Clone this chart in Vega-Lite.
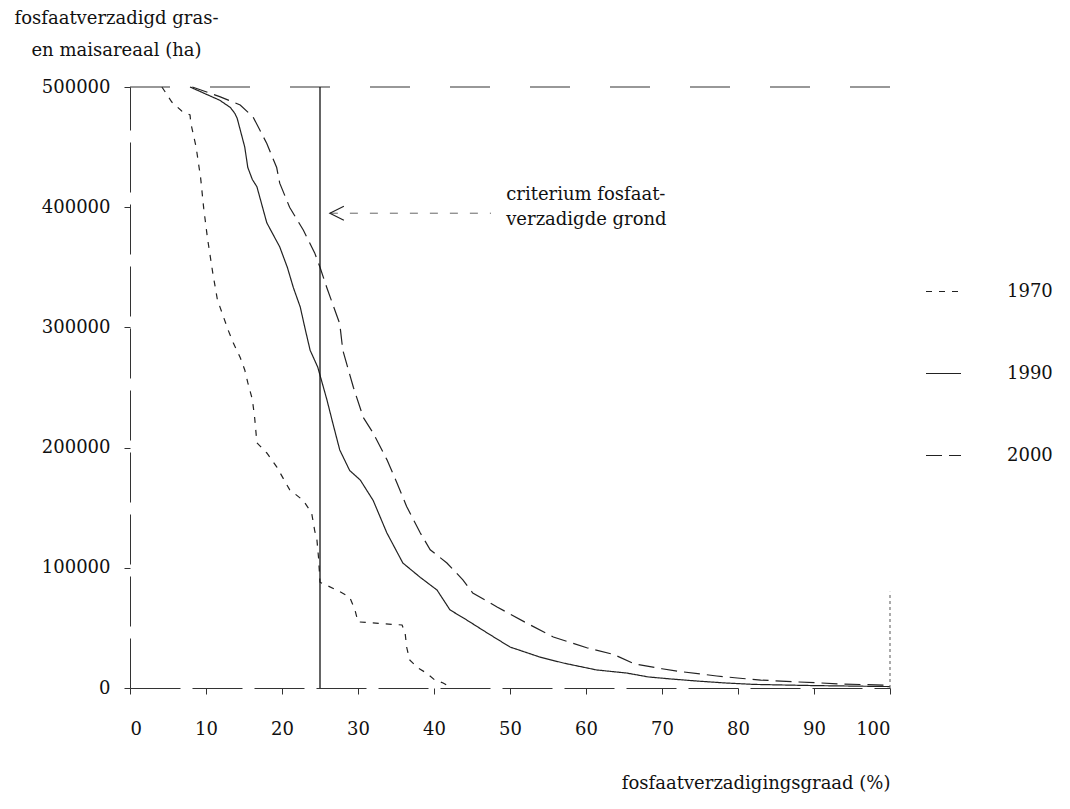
{
  "$schema": "https://vega.github.io/schema/vega-lite/v6.json",
  "width": 760,
  "height": 601,
  "autosize": {"type": "none"},
  "padding": {"left": 130, "top": 87, "right": 180, "bottom": 121},
  "background": "white",
  "config": {
    "font": "DejaVu Serif",
    "view": {"stroke": null},
    "axis": {"labelFont": "DejaVu Serif", "titleFont": "DejaVu Serif", "labelColor": "#111", "titleColor": "#111", "grid": false, "domainColor": "#333", "tickColor": "#333", "domainDash": [50, 12], "tickSize": 6, "titleFontWeight": "normal", "labelFontSize": 18, "titleFontSize": 18}
  },
  "datasets": {
    "curves": [
      {"jaar": "1970", "p": 4.2, "ha": 500000},
      {"jaar": "1970", "p": 5.5, "ha": 487500},
      {"jaar": "1970", "p": 6.8, "ha": 480000},
      {"jaar": "1970", "p": 7.9, "ha": 476700},
      {"jaar": "1970", "p": 8.0, "ha": 470000},
      {"jaar": "1970", "p": 8.7, "ha": 450000},
      {"jaar": "1970", "p": 9.3, "ha": 424000},
      {"jaar": "1970", "p": 9.7, "ha": 399000},
      {"jaar": "1970", "p": 10.2, "ha": 374000},
      {"jaar": "1970", "p": 10.9, "ha": 345000},
      {"jaar": "1970", "p": 11.5, "ha": 323000},
      {"jaar": "1970", "p": 12.9, "ha": 298000},
      {"jaar": "1970", "p": 13.6, "ha": 287000},
      {"jaar": "1970", "p": 14.5, "ha": 275000},
      {"jaar": "1970", "p": 15.1, "ha": 264600},
      {"jaar": "1970", "p": 15.5, "ha": 254000},
      {"jaar": "1970", "p": 16.1, "ha": 240000},
      {"jaar": "1970", "p": 16.4, "ha": 225000},
      {"jaar": "1970", "p": 16.7, "ha": 204000},
      {"jaar": "1970", "p": 18.0, "ha": 195500},
      {"jaar": "1970", "p": 19.3, "ha": 184000},
      {"jaar": "1970", "p": 21.0, "ha": 165000},
      {"jaar": "1970", "p": 22.8, "ha": 156000},
      {"jaar": "1970", "p": 23.9, "ha": 145600},
      {"jaar": "1970", "p": 24.3, "ha": 131000},
      {"jaar": "1970", "p": 24.6, "ha": 123000},
      {"jaar": "1970", "p": 24.8, "ha": 109000},
      {"jaar": "1970", "p": 25.0, "ha": 88000},
      {"jaar": "1970", "p": 27.2, "ha": 81500},
      {"jaar": "1970", "p": 28.9, "ha": 75700},
      {"jaar": "1970", "p": 29.6, "ha": 65000},
      {"jaar": "1970", "p": 30.0, "ha": 55000},
      {"jaar": "1970", "p": 35.8, "ha": 52400},
      {"jaar": "1970", "p": 36.2, "ha": 45800},
      {"jaar": "1970", "p": 36.4, "ha": 34100},
      {"jaar": "1970", "p": 36.8, "ha": 23300},
      {"jaar": "1970", "p": 37.9, "ha": 16600},
      {"jaar": "1970", "p": 39.0, "ha": 12500},
      {"jaar": "1970", "p": 40.1, "ha": 6700},
      {"jaar": "1970", "p": 41.2, "ha": 4200},
      {"jaar": "1970", "p": 42.3, "ha": 0},
      {"jaar": "1990", "p": 7.9, "ha": 500000},
      {"jaar": "1990", "p": 11.8, "ha": 489000},
      {"jaar": "1990", "p": 13.2, "ha": 483000},
      {"jaar": "1990", "p": 13.8, "ha": 478000},
      {"jaar": "1990", "p": 14.1, "ha": 474000},
      {"jaar": "1990", "p": 15.1, "ha": 450000},
      {"jaar": "1990", "p": 15.5, "ha": 433000},
      {"jaar": "1990", "p": 16.1, "ha": 423000},
      {"jaar": "1990", "p": 16.7, "ha": 417000},
      {"jaar": "1990", "p": 18.0, "ha": 387000},
      {"jaar": "1990", "p": 19.7, "ha": 367000},
      {"jaar": "1990", "p": 20.7, "ha": 350000},
      {"jaar": "1990", "p": 21.5, "ha": 333000},
      {"jaar": "1990", "p": 22.4, "ha": 317000},
      {"jaar": "1990", "p": 23.0, "ha": 300000},
      {"jaar": "1990", "p": 23.7, "ha": 281000},
      {"jaar": "1990", "p": 24.7, "ha": 267000},
      {"jaar": "1990", "p": 25.9, "ha": 240000},
      {"jaar": "1990", "p": 26.7, "ha": 220000},
      {"jaar": "1990", "p": 27.6, "ha": 198000},
      {"jaar": "1990", "p": 28.9, "ha": 181000},
      {"jaar": "1990", "p": 30.3, "ha": 173000},
      {"jaar": "1990", "p": 32.0, "ha": 156000},
      {"jaar": "1990", "p": 33.8, "ha": 129000},
      {"jaar": "1990", "p": 35.9, "ha": 104000},
      {"jaar": "1990", "p": 38.2, "ha": 92000},
      {"jaar": "1990", "p": 40.4, "ha": 81500},
      {"jaar": "1990", "p": 42.1, "ha": 65000},
      {"jaar": "1990", "p": 44.3, "ha": 56600},
      {"jaar": "1990", "p": 47.0, "ha": 45800},
      {"jaar": "1990", "p": 50.0, "ha": 34100},
      {"jaar": "1990", "p": 53.9, "ha": 25800},
      {"jaar": "1990", "p": 57.0, "ha": 20800},
      {"jaar": "1990", "p": 61.4, "ha": 15000},
      {"jaar": "1990", "p": 65.3, "ha": 12500},
      {"jaar": "1990", "p": 68.2, "ha": 9200},
      {"jaar": "1990", "p": 71.2, "ha": 7500},
      {"jaar": "1990", "p": 74.6, "ha": 5800},
      {"jaar": "1990", "p": 78.3, "ha": 4200},
      {"jaar": "1990", "p": 82.0, "ha": 3000},
      {"jaar": "1990", "p": 90.0, "ha": 2000},
      {"jaar": "1990", "p": 100.0, "ha": 1200},
      {"jaar": "2000", "p": 8.2, "ha": 500000},
      {"jaar": "2000", "p": 11.8, "ha": 492000},
      {"jaar": "2000", "p": 14.5, "ha": 485000},
      {"jaar": "2000", "p": 16.2, "ha": 475000},
      {"jaar": "2000", "p": 17.1, "ha": 464000},
      {"jaar": "2000", "p": 18.0, "ha": 453000},
      {"jaar": "2000", "p": 19.3, "ha": 433000},
      {"jaar": "2000", "p": 19.7, "ha": 420000},
      {"jaar": "2000", "p": 21.0, "ha": 400000},
      {"jaar": "2000", "p": 22.8, "ha": 381000},
      {"jaar": "2000", "p": 24.3, "ha": 362000},
      {"jaar": "2000", "p": 25.0, "ha": 350000},
      {"jaar": "2000", "p": 25.9, "ha": 333000},
      {"jaar": "2000", "p": 27.6, "ha": 303000},
      {"jaar": "2000", "p": 28.0, "ha": 281000},
      {"jaar": "2000", "p": 29.4, "ha": 250000},
      {"jaar": "2000", "p": 30.7, "ha": 225000},
      {"jaar": "2000", "p": 32.0, "ha": 212000},
      {"jaar": "2000", "p": 33.8, "ha": 190000},
      {"jaar": "2000", "p": 35.1, "ha": 171000},
      {"jaar": "2000", "p": 36.4, "ha": 151000},
      {"jaar": "2000", "p": 38.2, "ha": 129000},
      {"jaar": "2000", "p": 39.5, "ha": 115000},
      {"jaar": "2000", "p": 41.7, "ha": 104000},
      {"jaar": "2000", "p": 43.8, "ha": 90000},
      {"jaar": "2000", "p": 45.1, "ha": 79000},
      {"jaar": "2000", "p": 48.3, "ha": 67400},
      {"jaar": "2000", "p": 52.2, "ha": 54000},
      {"jaar": "2000", "p": 55.7, "ha": 42400},
      {"jaar": "2000", "p": 60.1, "ha": 33500},
      {"jaar": "2000", "p": 63.6, "ha": 28000},
      {"jaar": "2000", "p": 66.4, "ha": 20000},
      {"jaar": "2000", "p": 70.0, "ha": 16000},
      {"jaar": "2000", "p": 72.0, "ha": 14000},
      {"jaar": "2000", "p": 77.2, "ha": 10000},
      {"jaar": "2000", "p": 79.9, "ha": 8300},
      {"jaar": "2000", "p": 83.0, "ha": 6600},
      {"jaar": "2000", "p": 88.0, "ha": 5000},
      {"jaar": "2000", "p": 90.9, "ha": 4200},
      {"jaar": "2000", "p": 93.6, "ha": 3300},
      {"jaar": "2000", "p": 100.0, "ha": 2300}
    ],
    "criterium": [{"p": 25, "ha": 0, "ha2": 500000}],
    "bovenrand": [{"p": 0, "p2": 100, "ha": 500000}],
    "rechterrand": [{"p": 100, "ha": 0, "ha2": 80000}],
    "pijl": [{"p": 26.3, "p2": 47.5, "ha": 395000}],
    "tekst": [
      {"p": 49.5, "ha": 410000, "label": "criterium fosfaat-"},
      {"p": 49.5, "ha": 389000, "label": "verzadigde grond"}
    ]
  },
  "layer": [
    {
      "data": {"name": "curves"},
      "mark": {"type": "line", "color": "#222", "strokeWidth": 1.2},
      "encoding": {
        "x": {
          "field": "p", "type": "quantitative",
          "scale": {"domain": [0, 100], "nice": false},
          "axis": {
            "values": [0, 10, 20, 30, 40, 50, 60, 70, 80, 90, 100],
            "labelPadding": 26,
            "title": "fosfaatverzadigingsgraad (%)",
            "titleAnchor": "end",
            "titleAlign": "right",
            "titleX": 760,
            "titleY": 95,
            "titleBaseline": "middle"
          }
        },
        "y": {
          "field": "ha", "type": "quantitative",
          "scale": {"domain": [0, 500000], "nice": false},
          "axis": {
            "values": [0, 100000, 200000, 300000, 400000, 500000],
            "format": "d",
            "labelPadding": 14,
            "title": ["fosfaatverzadigd gras-", "en maisareaal (ha)"],
            "titleAngle": 0,
            "titleAlign": "center",
            "titleBaseline": "top",
            "titleX": -14,
            "titleY": -78,
            "titleLineHeight": 32
          }
        },
        "strokeDash": {
          "field": "jaar", "type": "nominal",
          "scale": {"domain": ["1970", "1990", "2000"], "range": [[6, 7], [1, 0], [16, 7]]},
          "legend": {
            "orient": "none",
            "legendX": 795,
            "legendY": 186,
            "title": null,
            "symbolType": "stroke",
            "symbolSize": 1225,
            "symbolStrokeWidth": 1.2,
            "symbolStrokeColor": "#222",
            "labelFont": "DejaVu Serif",
            "labelFontSize": 18,
            "labelColor": "#111",
            "labelOffset": 45,
            "rowPadding": 54,
            "padding": 0
          }
        }
      }
    },
    {
      "data": {"name": "bovenrand"},
      "mark": {"type": "rule", "color": "#333", "strokeWidth": 1.1, "strokeDash": [40, 40]},
      "encoding": {
        "x": {"field": "p", "type": "quantitative"},
        "x2": {"field": "p2"},
        "y": {"field": "ha", "type": "quantitative"}
      }
    },
    {
      "data": {"name": "rechterrand"},
      "mark": {"type": "rule", "color": "#666", "strokeWidth": 1.1, "strokeDash": [3, 3]},
      "encoding": {
        "x": {"field": "p", "type": "quantitative"},
        "y": {"field": "ha", "type": "quantitative"},
        "y2": {"field": "ha2"}
      }
    },
    {
      "data": {"name": "criterium"},
      "mark": {"type": "rule", "color": "#111", "strokeWidth": 1.3},
      "encoding": {
        "x": {"field": "p", "type": "quantitative"},
        "y": {"field": "ha", "type": "quantitative"},
        "y2": {"field": "ha2"}
      }
    },
    {
      "data": {"name": "pijl"},
      "mark": {"type": "rule", "color": "#666", "strokeWidth": 1, "strokeDash": [8, 12]},
      "encoding": {
        "x": {"field": "p", "type": "quantitative"},
        "x2": {"field": "p2"},
        "y": {"field": "ha", "type": "quantitative"}
      }
    },
    {
      "data": {"name": "pijl"},
      "mark": {"type": "point", "shape": "M2,-1L0,0L2,1", "size": 196, "filled": false, "color": "#222", "strokeWidth": 1.2, "opacity": 1},
      "encoding": {
        "x": {"field": "p", "type": "quantitative"},
        "y": {"field": "ha", "type": "quantitative"}
      }
    },
    {
      "data": {"name": "tekst"},
      "mark": {"type": "text", "align": "left", "baseline": "middle", "font": "DejaVu Serif", "fontSize": 18, "color": "#111"},
      "encoding": {
        "x": {"field": "p", "type": "quantitative"},
        "y": {"field": "ha", "type": "quantitative"},
        "text": {"field": "label"}
      }
    }
  ]
}
